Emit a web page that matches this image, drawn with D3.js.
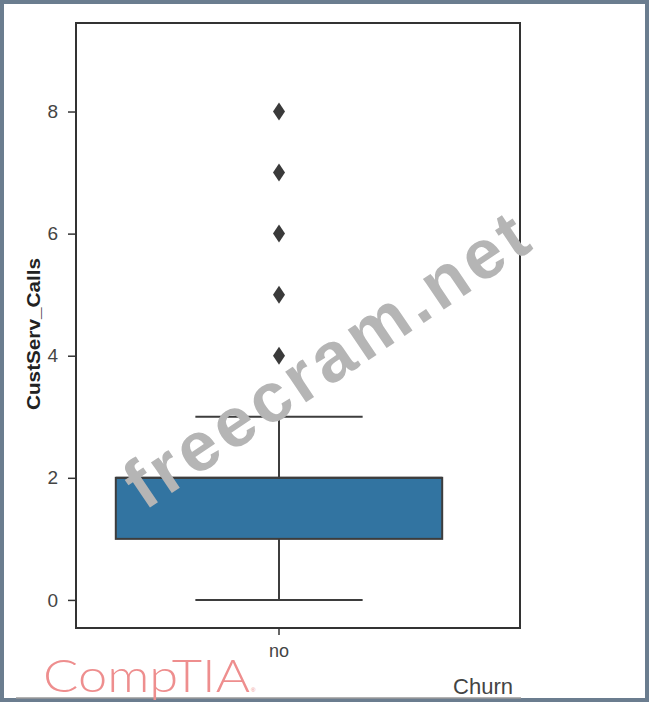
<!DOCTYPE html>
<html>
<head>
<meta charset="utf-8">
<script src="https://cdn.jsdelivr.net/npm/d3@7"></script>
<style>
  body { margin: 0; background: #fff; }
  svg { display: block; }
</style>
</head>
<body>
<svg id="chart" width="649" height="702"></svg>
<script>
// data
var categories = ["no"];
var q1 = [1], median = [2], q3 = [2];
var whiskLow = [0], whiskHigh = [3];
var outliers = [[4, 5, 6, 7, 8]];
var yTicks = [0, 2, 4, 6, 8];

var svg = d3.select("#chart");

// outer frame of the screenshot
svg.append("rect")
    .attr("x", 2).attr("y", 2)
    .attr("width", 645).attr("height", 698)
    .attr("fill", "#fff")
    .attr("stroke", "#6b7d8f")
    .attr("stroke-width", 4);

var plotLeft = 76, plotRight = 520, plotTop = 23, plotBottom = 628;

var y = d3.scaleLinear().domain([-0.46, 9.45]).range([plotBottom, plotTop]);
var x = d3.scaleBand().domain(categories).range([75, 483]);

var ink = "#3d3d3d";

var g = svg.append("g");

categories.forEach(function(c, i) {
    var cx = x(c) + x.bandwidth() / 2;
    var bw = x.bandwidth() * 0.8;
    var capW = x.bandwidth() * 0.41;

    // whiskers
    g.append("line")
        .attr("x1", cx).attr("x2", cx)
        .attr("y1", y(whiskLow[i])).attr("y2", y(q1[i]))
        .attr("stroke", ink).attr("stroke-width", 2);
    g.append("line")
        .attr("x1", cx).attr("x2", cx)
        .attr("y1", y(q3[i])).attr("y2", y(whiskHigh[i]))
        .attr("stroke", ink).attr("stroke-width", 2);
    [whiskLow[i], whiskHigh[i]].forEach(function(v) {
        g.append("line")
            .attr("x1", cx - capW / 2).attr("x2", cx + capW / 2)
            .attr("y1", y(v)).attr("y2", y(v))
            .attr("stroke", ink).attr("stroke-width", 2);
    });

    // box
    g.append("rect")
        .attr("x", cx - bw / 2)
        .attr("y", y(q3[i]))
        .attr("width", bw)
        .attr("height", y(q1[i]) - y(q3[i]))
        .attr("fill", "#3274a1")
        .attr("stroke", ink)
        .attr("stroke-width", 2);
    g.append("line")
        .attr("x1", cx - bw / 2).attr("x2", cx + bw / 2)
        .attr("y1", y(median[i])).attr("y2", y(median[i]))
        .attr("stroke", ink).attr("stroke-width", 2);

    // outlier diamonds
    g.selectAll(".out" + i)
        .data(outliers[i])
        .enter().append("path")
        .attr("d", function(d) {
            var yy = y(d);
            return "M" + cx + "," + (yy - 9) + "L" + (cx + 6) + "," + yy +
                   "L" + cx + "," + (yy + 9) + "L" + (cx - 6) + "," + yy + "Z";
        })
        .attr("fill", "#3a3a3a");
});

// plot frame
svg.append("rect")
    .attr("x", plotLeft).attr("y", plotTop)
    .attr("width", plotRight - plotLeft).attr("height", plotBottom - plotTop)
    .attr("fill", "none")
    .attr("stroke", "#333")
    .attr("stroke-width", 2);

// y axis
var yAxis = svg.append("g")
    .attr("transform", "translate(" + plotLeft + ",0)")
    .call(d3.axisLeft(y).tickValues(yTicks).tickSize(8).tickPadding(10));
yAxis.select(".domain").remove();
yAxis.selectAll(".tick line").attr("stroke", "#333").attr("stroke-width", 1.5);
yAxis.selectAll("text")
    .attr("font-family", "Liberation Sans, Arial, sans-serif")
    .attr("font-size", 19)
    .attr("fill", "#444");

// x axis
var xAxis = svg.append("g")
    .attr("transform", "translate(0," + plotBottom + ")")
    .call(d3.axisBottom(x).tickSize(7).tickPadding(9));
xAxis.select(".domain").remove();
xAxis.selectAll(".tick line").attr("stroke", "#333").attr("stroke-width", 1.5);
xAxis.selectAll("text")
    .attr("font-family", "Liberation Sans, Arial, sans-serif")
    .attr("font-size", 18)
    .attr("fill", "#444");

// axis labels
svg.append("text")
    .attr("transform", "translate(40,334) rotate(-90)")
    .attr("text-anchor", "middle")
    .attr("font-family", "Liberation Sans, Arial, sans-serif")
    .attr("font-weight", "bold")
    .attr("font-size", 19)
    .attr("fill", "#222")
    .attr("textLength", 152)
    .attr("lengthAdjust", "spacingAndGlyphs")
    .text("CustServ_Calls");

svg.append("text")
    .attr("x", 483).attr("y", 694)
    .attr("text-anchor", "middle")
    .attr("font-family", "Liberation Sans, Arial, sans-serif")
    .attr("font-size", 22)
    .attr("fill", "#444")
    .text("Churn");

// watermark, drawn over the box
svg.append("text")
    .attr("transform", "translate(326,360) rotate(-34)")
    .attr("text-anchor", "middle")
    .attr("dominant-baseline", "central")
    .attr("font-family", "Liberation Sans, Arial, sans-serif")
    .attr("font-weight", "bold")
    .attr("font-size", 70)
    .attr("fill", "#b5b5b5")
    .attr("textLength", 470)
    .text("freecram.net");

// CompTIA mark and underline
svg.append("line")
    .attr("x1", 16).attr("x2", 521)
    .attr("y1", 698).attr("y2", 698)
    .attr("stroke", "#9a9a9a").attr("stroke-width", 1.5);

svg.append("text")
    .attr("x", 43).attr("y", 692)
    .attr("font-family", "Lato, 'Open Sans', sans-serif")
    .attr("font-weight", 300)
    .attr("font-size", 46)
    .attr("fill", "#ee8e8e")
    .attr("textLength", 207)
    .attr("lengthAdjust", "spacingAndGlyphs")
    .text("CompTIA");
svg.append("text")
    .attr("x", 251).attr("y", 692)
    .attr("font-family", "Liberation Sans, Arial, sans-serif")
    .attr("font-size", 6)
    .attr("fill", "#ee8e8e")
    .text("®");
</script>
</body>
</html>
